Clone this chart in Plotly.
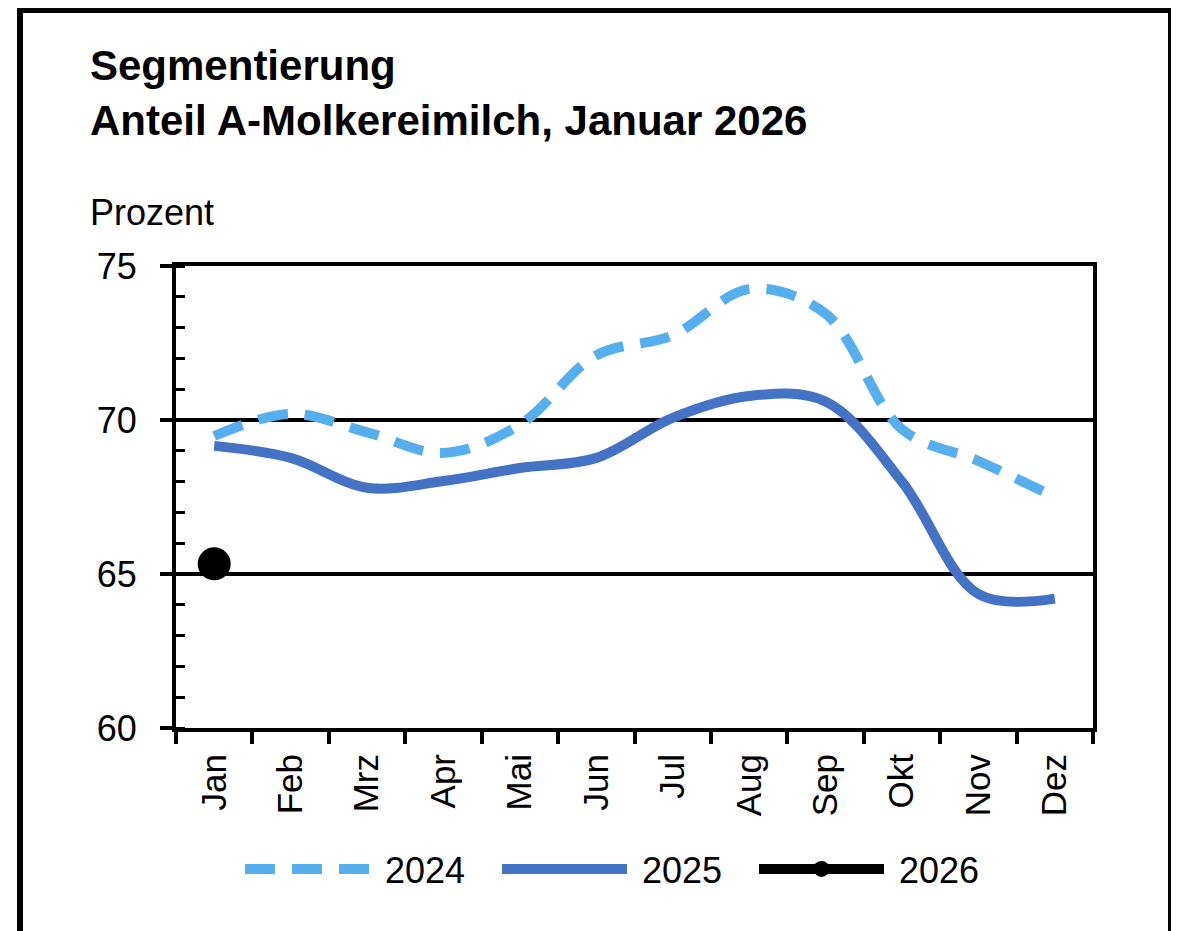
import plotly.graph_objects as go

months = ["Jan", "Feb", "Mrz", "Apr", "Mai", "Jun", "Jul", "Aug", "Sep", "Okt", "Nov", "Dez"]
v2024 = [69.48, 70.2, 69.6, 68.93, 69.85, 72.1, 72.75, 74.25, 73.45, 69.7, 68.67, 67.5]
v2025 = [69.16, 68.77, 67.8, 68.02, 68.44, 68.77, 70.07, 70.78, 70.6, 68.0, 64.35, 64.2]
months2026 = ["Jan"]
v2026 = [65.33]
series_names = ["2024", "2025", "2026"]

FONT = "Liberation Sans, Arial, sans-serif"
W, H = 1179, 931
OFF = 8  # page margin offset
L, T = 176 - OFF, 266 - OFF
R, B = W - (1093 - OFF), H - (728 - OFF)
PW, PH = W - L - R, H - T - B

def px(x):
    return (x - OFF - L) / PW

def py(y):
    return (H - B - (y - OFF)) / PH

PAD = "\u00a0"

fig = go.Figure()
fig.add_trace(go.Scatter(
    x=months, y=v2024, name=PAD + series_names[0], mode="lines",
    line=dict(color="#55AFEF", width=10, dash="30px,17px", shape="spline", smoothing=1.0),
))
fig.add_trace(go.Scatter(
    x=months, y=v2025, name=PAD + series_names[1], mode="lines",
    line=dict(color="#4472C4", width=10, shape="spline", smoothing=1.0),
))
fig.add_trace(go.Scatter(
    x=months2026, y=v2026, name=PAD + series_names[2], mode="lines+markers",
    line=dict(color="#000000", width=10),
    marker=dict(color="#000000", size=33),
))

fig.update_layout(
    width=W, height=H,
    margin=dict(l=L, r=R, t=T, b=B, autoexpand=False),
    paper_bgcolor="white", plot_bgcolor="white",
    font=dict(family=FONT, color="black", size=34),
    showlegend=True,
    legend=dict(orientation="h", x=px(240), xanchor="left", y=py(869), yanchor="middle",
                font=dict(size=36, family=FONT), itemwidth=125, entrywidth=117,
                bgcolor="rgba(0,0,0,0)"),
    xaxis=dict(
        type="category", categoryorder="array", categoryarray=months,
        range=[-0.5, 11.5], tickson="boundaries",
        ticks="outside", ticklen=12, tickwidth=4, tickcolor="black",
        showline=True, linecolor="black", linewidth=4, mirror=True,
        showgrid=False, tickangle=-90, tickfont=dict(size=35, family=FONT),
        ticklabelstandoff=8, fixedrange=True,
    ),
    yaxis=dict(
        range=[60, 75], tickvals=[60, 65, 70, 75], ticktext=["60", "65", "70", "75"],
        ticks="outside", ticklen=12, tickwidth=4, tickcolor="black",
        minor=dict(ticks="inside", ticklen=9, tickwidth=3, tickcolor="black", dtick=1, showgrid=False),
        showline=True, linecolor="black", linewidth=4, mirror=True,
        showgrid=True, gridcolor="black", gridwidth=4, zeroline=False,
        tickfont=dict(size=36, family=FONT), ticklabelstandoff=16, fixedrange=True,
    ),
    annotations=[
        dict(text="<b>Segmentierung</b>", xref="paper", yref="paper",
             x=px(88), y=py(40), xanchor="left", yanchor="top", showarrow=False,
             font=dict(size=42, family=FONT, color="black")),
        dict(text="<b>Anteil A-Molkereimilch, Januar 2026</b>", xref="paper", yref="paper",
             x=px(88), y=py(95), xanchor="left", yanchor="top", showarrow=False,
             font=dict(size=42, family=FONT, color="black")),
        dict(text="Prozent", xref="paper", yref="paper",
             x=px(88), y=py(190), xanchor="left", yanchor="top", showarrow=False,
             font=dict(size=36, family=FONT, color="black")),
    ],
    shapes=[
        dict(type="rect", xref="paper", yref="paper",
             x0=px(20), x1=px(1171), y0=py(1000), y1=py(10),
             line=dict(color="black", width=6), fillcolor="rgba(0,0,0,0)", layer="above"),
    ],
)

fig.write_html("out.html", include_plotlyjs=True, config={"displayModeBar": False})
